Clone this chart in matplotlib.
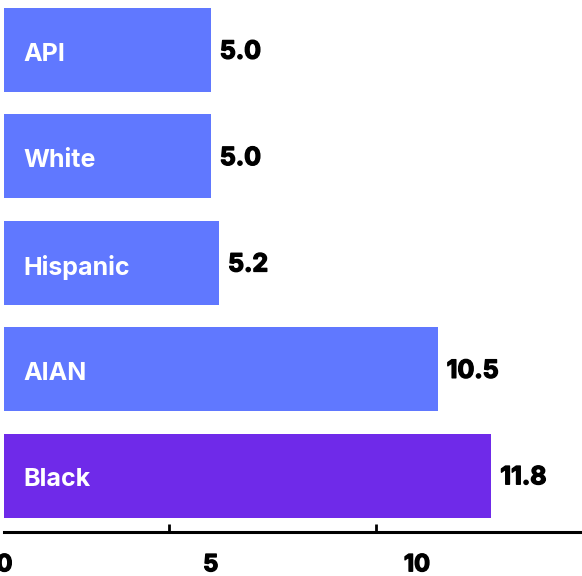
import matplotlib.pyplot as plt
import matplotlib.patheffects as pe
import numpy as np

groups = ['API', 'White', 'Hispanic', 'AIAN', 'Black']
values = [5.0, 5.0, 5.2, 10.5, 11.8]
bar_colors = ['#6078ff', '#6078ff', '#6078ff', '#6078ff', '#6f2ae9']
tick_vals = [0, 5, 10]

plt.rcParams['font.family'] = ['Inter', 'DejaVu Sans']
heavy = [pe.withStroke(linewidth=1.0, foreground='black')]

fig = plt.figure(figsize=(5.82, 5.76), dpi=100)
ax = fig.add_axes([0.0077, 0.0764, 0.9923, 0.9236])

y = np.arange(len(groups))
ax.barh(y, values, height=0.79, color=bar_colors)

for i, (g, v) in enumerate(zip(groups, values)):
    ax.text(0.45, i + 0.04, g, color='white', fontsize=18, fontweight='bold',
            va='center', ha='left')
    ax.text(v + 0.22, i + 0.02, f'{v:.1f}', color='black', fontsize=18,
            fontweight='bold', va='center', ha='left', path_effects=heavy)

ax.set_xlim(0, 14)
ax.set_ylim(4.53, -0.47)

for s in ['top', 'right', 'left']:
    ax.spines[s].set_visible(False)
ax.spines['bottom'].set_linewidth(2.2)
ax.set_yticks([])

# labels sit at 0/5/10, the tick marks are drawn one unit short
ax.set_xticks(tick_vals)
ax.set_xticklabels([str(t) for t in tick_vals], fontsize=17, fontweight='bold')
for lab in ax.get_xticklabels():
    lab.set_path_effects(heavy)
ax.tick_params(axis='x', which='major', length=0, pad=16)
ax.set_xticks([4, 9], minor=True)
ax.tick_params(axis='x', which='minor', direction='in', length=6, width=2)

fig.savefig('out.png', dpi=100)
